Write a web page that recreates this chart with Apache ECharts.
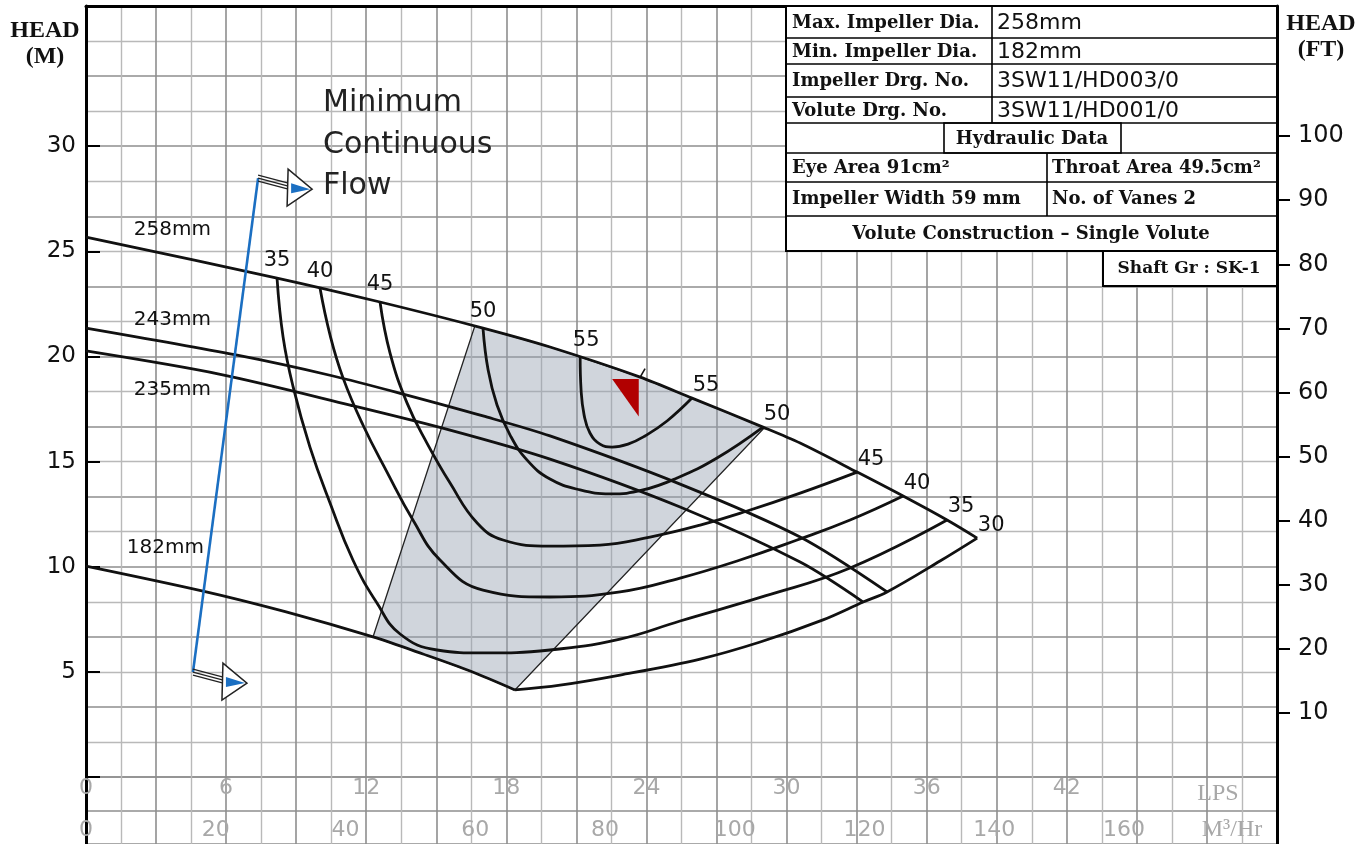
<!DOCTYPE html>
<html>
<head>
<meta charset="utf-8">
<title>Pump curve 3SW11</title>
<script src="https://cdn.jsdelivr.net/npm/echarts@6/dist/echarts.min.js"></script>
<style>
  html, body { margin: 0; padding: 0; background: #fff; }
  #main { width: 1363px; height: 844px; }
</style>
</head>
<body>
<div id="main"></div>
<script>
// flow in LPS, head in metres
var dia258 = [[0,25.68],[8.18,23.73],[12.59,22.59],[17.0,21.35],[19.87,20.45],[23.73,19.02],[25.95,18.02],[28.99,16.64],[30.58,15.88],[33.02,14.5],[34.99,13.36],[36.87,12.22],[38.16,11.36]];
var dia243 = [[0,21.35],[6.42,20.07],[10.58,19.07],[13.58,18.21],[17.0,17.17],[19.87,16.22],[25.44,13.93],[30.58,11.41],[34.3,8.8]];
var dia235 = [[0,20.26],[5.7,19.16],[11.31,17.69],[15.59,16.5],[19.87,15.12],[25.44,12.84],[30.58,10.22],[33.28,8.32]];
var dia182 = [[0,10.03],[5.01,8.84],[8.57,7.85],[12.29,6.66],[14.43,5.85],[16.45,5.04],[18.37,4.14]];

// efficiency lines (%)
var eff55 = [[21.16,19.97],[21.2,18.4],[21.33,17.21],[21.58,16.36],[22.01,15.83],[22.53,15.69],[23.21,15.83],[23.94,16.22],[24.88,16.93],[25.95,18.02]];
var eff50 = [[17.0,21.35],[17.22,19.35],[17.6,17.69],[18.16,16.26],[18.89,15.07],[19.87,14.17],[21.16,13.65],[22.44,13.46],[23.85,13.65],[25.31,14.22],[27.02,15.17],[28.99,16.64]];
var eff45 = [[12.59,22.59],[13.02,20.16],[13.75,17.78],[14.6,15.88],[15.59,13.98],[16.75,12.08],[17.86,11.27],[19.87,10.98],[22.01,11.03],[24.15,11.41],[26.3,11.98],[28.31,12.65],[30.58,13.5],[33.02,14.5]];
var eff40 = [[10.02,23.25],[10.45,21.02],[11.01,18.97],[11.86,16.74],[12.89,14.5],[14.0,12.22],[15.16,10.32],[17.0,8.89],[19.87,8.56],[22.87,8.8],[25.44,9.46],[28.01,10.32],[30.45,11.27],[32.72,12.22],[34.99,13.36]];
var eff35 = [[8.18,23.73],[8.44,20.92],[8.87,18.55],[9.59,15.69],[10.45,13.03],[11.43,10.32],[12.46,8.27],[13.45,6.8],[15.03,6.04],[17.0,5.9],[19.87,6.04],[22.87,6.56],[25.44,7.42],[29.08,8.61],[32.72,9.94],[36.87,12.22]];
var eff30 = [[18.37,4.14],[20.3,4.37],[22.87,4.85],[26.3,5.61],[28.87,6.42],[31.56,7.47],[33.28,8.32],[34.3,8.8],[36.57,10.27],[38.16,11.36]];

// shaded operating zone: flows where its edges meet 182 / 258 curves
var zoneFlow = [12.29, 16.65, 29.05, 18.37];
// duty point marker and minimum continuous flow line
var dutyMark = [[22.53,18.93],[23.67,18.93],[23.67,17.15]];
var dutyTick = [[23.73,19.02],[23.94,19.42]];
var mcfLine = [[7.37,28.48],[4.58,4.99]];

// tick labels
var headMLabels = [5,10,15,20,25,30];
var headMTicks = [0,5,10,15,20,25,30];
var headFtLabels = [10,20,30,40,50,60,70,80,90,100];
var lpsLabels = [0,6,12,18,24,30,36,42];
var m3hLabels = [0,20,40,60,80,100,120,140,160];

var FT = 3.28084, M3H = 3.6;
var X_MAX = 51, Y_MAX = 110 / 3;

var myChart = echarts.init(document.getElementById('main'));

function interp(curve, x) {
  for (var i = 1; i < curve.length; i++) {
    var a = curve[i - 1], b = curve[i];
    if ((x - a[0]) * (x - b[0]) <= 0) {
      return a[1] + (x - a[0]) / (b[0] - a[0]) * (b[1] - a[1]);
    }
  }
  return curve[curve.length - 1][1];
}

// build the zone polygon from the two boundary curves
var zone = [[zoneFlow[0], interp(dia182, zoneFlow[0])], [zoneFlow[1], interp(dia258, zoneFlow[1])]];
dia258.forEach(function (p) { if (p[0] > zoneFlow[1] && p[0] < zoneFlow[2]) zone.push(p); });
zone.push([zoneFlow[2], interp(dia258, zoneFlow[2])]);
zone.push([zoneFlow[3], interp(dia182, zoneFlow[3])]);
dia182.slice().reverse().forEach(function (p) { if (p[0] < zoneFlow[3] && p[0] > zoneFlow[0]) zone.push(p); });

var sansFont = "'DejaVu Sans', sans-serif";
var serifFont = "'DejaVu Serif', serif";

function curve(data, smooth) {
  return {
    type: 'line', xAxisIndex: 0, yAxisIndex: 0, data: data, smooth: smooth,
    symbol: 'none', silent: true, z: 4,
    lineStyle: { color: '#111', width: 2.8 }
  };
}

function polygon(pts, style, z) {
  return {
    type: 'custom', xAxisIndex: 0, yAxisIndex: 0, silent: true, z: z,
    data: [pts[0]],
    renderItem: function (params, api) {
      return { type: 'polygon', shape: { points: pts.map(function (p) { return api.coord(p); }) }, style: style };
    }
  };
}

// curve labels: efficiency at both ends, diameters on the left
var effCurves = [['55', eff55], ['50', eff50], ['45', eff45], ['40', eff40], ['35', eff35], ['30', eff30]];
var labelItems = [];
effCurves.forEach(function (c) {
  var first = c[1][0], last = c[1][c[1].length - 1];
  if (c[0] !== '30') labelItems.push({ text: c[0], at: first, dx: c[0] === '55' ? 6 : 0, dy: -17 });
  labelItems.push({ text: c[0], at: last, dx: 14, dy: -13 });
});
[['258mm', dia258, 3.7, -26], ['243mm', dia243, 3.7, -24], ['235mm', dia235, 3.7, 24], ['182mm', dia182, 3.4, -35]].forEach(function (d) {
  labelItems.push({ text: d[0], at: [d[2], interp(d[1], d[2])], dx: 0, dy: d[3], small: true });
});

// arrow head drawn at each end of the minimum flow line
function arrow(p) {
  var x = p[0], y = p[1];
  return {
    type: 'group',
    children: [
      { type: 'polyline', shape: { points: [[x, y - 3], [x + 34, y + 6]] }, style: { stroke: '#222', lineWidth: 1.3 } },
      { type: 'polyline', shape: { points: [[x, y], [x + 34, y + 9]] }, style: { stroke: '#222', lineWidth: 1.3 } },
      { type: 'polyline', shape: { points: [[x, y + 3], [x + 34, y + 12]] }, style: { stroke: '#222', lineWidth: 1.3 } },
      { type: 'polygon', shape: { points: [[x + 30, y - 9], [x + 54, y + 11], [x + 29, y + 28]] }, style: { fill: '#fff', stroke: '#222', lineWidth: 1.5 } },
      { type: 'polygon', shape: { points: [[x + 33, y + 5], [x + 52, y + 11], [x + 33, y + 15]] }, style: { fill: '#1b6fc2' } }
    ]
  };
}

var series = [
  polygon(zone, { fill: 'rgba(150,162,178,0.45)', stroke: '#222', lineWidth: 1.3 }, 2),
  curve(dia258, 0.3), curve(dia243, 0.3), curve(dia235, 0.3), curve(dia182, 0.3),
  curve(eff55, 0.45), curve(eff50, 0.45), curve(eff45, 0.45), curve(eff40, 0.45), curve(eff35, 0.45), curve(eff30, 0.35),
  polygon(dutyMark, { fill: '#b10000' }, 6),
  {
    type: 'line', xAxisIndex: 0, yAxisIndex: 0, data: dutyTick, symbol: 'none', silent: true, z: 6,
    lineStyle: { color: '#111', width: 1.6 }
  },
  {
    type: 'line', xAxisIndex: 0, yAxisIndex: 0, data: mcfLine, symbol: 'none', silent: true, z: 7,
    lineStyle: { color: '#1b6fc2', width: 2.6 }
  },
  {
    type: 'custom', xAxisIndex: 0, yAxisIndex: 0, silent: true, z: 8, data: mcfLine,
    renderItem: function (params, api) {
      return arrow(api.coord([api.value(0), api.value(1)]));
    }
  },
  {
    type: 'custom', xAxisIndex: 0, yAxisIndex: 0, silent: true, z: 9,
    data: labelItems.map(function (l) { return l.at; }),
    renderItem: function (params, api) {
      var l = labelItems[params.dataIndex];
      var p = api.coord(l.at);
      return {
        type: 'text', x: p[0] + l.dx, y: p[1] + l.dy,
        style: {
          text: l.text, fill: '#111', font: (l.small ? '20px ' : '21px ') + sansFont,
          align: 'center', verticalAlign: 'middle', textAlign: 'center', textVerticalAlign: 'middle'
        }
      };
    }
  }
];

function majorLine() { return { show: true, lineStyle: { color: '#8e8e8e', width: 1.6 } }; }
function minorLine() { return { show: true, lineStyle: { color: '#b9b9b9', width: 1.4 } }; }
function frame() { return { show: true, onZero: false, lineStyle: { color: '#000', width: 3 } }; }
function off() { return { show: false }; }
function noLine() { return { show: false, onZero: false }; }

// table in the top right corner
var tx0 = 786, tx1 = 1277, rowY = [6, 38, 64, 97, 123, 153, 182, 216, 251];
var tableLabels = ['Max. Impeller Dia.', 'Min. Impeller Dia.', 'Impeller Drg. No.', 'Volute Drg. No.'];
var tableValues = ['258mm', '182mm', '3SW11/HD003/0', '3SW11/HD001/0'];

function gText(text, x, y, font, align, fill) {
  return {
    type: 'text', z: 60, x: x, y: y,
    style: { text: text, font: font, fill: fill || '#111', align: align || 'left', textAlign: align || 'left', verticalAlign: 'middle', textVerticalAlign: 'middle' }
  };
}
function gLine(x1, y1, x2, y2, w) {
  return { type: 'line', z: 59, shape: { x1: x1, y1: y1, x2: x2, y2: y2 }, style: { stroke: '#000', lineWidth: w || 1.6 } };
}

var tblFont = 'bold 18px ' + serifFont;
var graphics = [
  { type: 'rect', z: 58, shape: { x: tx0, y: rowY[0], width: tx1 - tx0, height: rowY[8] - rowY[0] }, style: { fill: '#fff', stroke: '#000', lineWidth: 2 } },
  { type: 'rect', z: 58, shape: { x: 1103, y: rowY[8], width: tx1 - 1103, height: 35 }, style: { fill: '#fff', stroke: '#000', lineWidth: 2 } },
  { type: 'rect', z: 59, shape: { x: 944, y: rowY[4], width: 177, height: rowY[5] - rowY[4] }, style: { fill: 'none', stroke: '#000', lineWidth: 1.6 } },
  gLine(992, rowY[0], 992, rowY[4]),
  gLine(1047, rowY[5], 1047, rowY[7])
];
for (var r = 1; r < 8; r++) graphics.push(gLine(tx0, rowY[r], tx1, rowY[r]));
tableLabels.forEach(function (t, i) {
  var yc = (rowY[i] + rowY[i + 1]) / 2;
  graphics.push(gText(t, 792, yc + 1, tblFont));
  graphics.push(gText(tableValues[i], 997, yc + 1, '22px ' + sansFont));
});
graphics.push(
  gText('Hydraulic Data', 1032, 139, tblFont, 'center'),
  gText('Eye Area 91cm²', 792, 168, tblFont),
  gText('Throat Area 49.5cm²', 1052, 168, tblFont),
  gText('Impeller Width 59 mm', 792, 199, tblFont),
  gText('No. of Vanes 2', 1052, 199, tblFont),
  gText('Volute Construction – Single Volute', 1031, 234, tblFont, 'center'),
  gText('Shaft Gr : SK-1', 1189, 269, 'bold 17px ' + serifFont, 'center'),
  gText('HEAD', 45, 31, "bold 24px 'Liberation Serif', serif", 'center'),
  gText('(M)', 45, 57, "bold 24px 'Liberation Serif', serif", 'center'),
  gText('HEAD', 1321, 24, "bold 24px 'Liberation Serif', serif", 'center'),
  gText('(FT)', 1321, 50, "bold 24px 'Liberation Serif', serif", 'center'),
  gText('Minimum', 323, 103, '30px ' + sansFont, 'left', '#222'),
  gText('Continuous', 323, 145, '30px ' + sansFont, 'left', '#222'),
  gText('Flow', 323, 186, '30px ' + sansFont, 'left', '#222'),
  gText('LPS', 1218, 794, "24px 'Liberation Serif', serif", 'center', '#a8a8a8'),
  gText('M³/Hr', 1232, 830, "24px 'Liberation Serif', serif", 'center', '#a8a8a8')
);

option = {
  animation: false,
  backgroundColor: '#fff',
  grid: [
    { left: 86, top: 6, width: 1191, height: 771 },
    { left: 86, top: 777, width: 1191, height: 70 }
  ],
  xAxis: [
    { type: 'value', gridIndex: 0, position: 'bottom', min: 0, max: X_MAX, interval: 3,
      axisLine: noLine(), axisTick: off(), axisLabel: off(),
      splitLine: majorLine(), minorTick: { show: false, splitNumber: 2 }, minorSplitLine: minorLine() },
    { type: 'value', gridIndex: 0, position: 'top', min: 0, max: X_MAX,
      axisLine: frame(), axisTick: off(), axisLabel: off(), splitLine: off() },
    { type: 'value', gridIndex: 1, position: 'top', min: 0, max: X_MAX, interval: 3,
      axisLine: noLine(), axisTick: off(),
      axisLabel: { inside: true, margin: 0, showMinLabel: true, color: '#a8a8a8', fontSize: 22, fontFamily: sansFont,
        formatter: function (v) { return lpsLabels.indexOf(v) >= 0 ? String(v) : ''; } },
      splitLine: majorLine(), minorTick: { show: false, splitNumber: 2 }, minorSplitLine: minorLine() },
    { type: 'value', gridIndex: 1, position: 'bottom', min: 0, max: X_MAX * M3H, interval: 20,
      axisLine: noLine(), axisTick: off(), splitLine: off(),
      axisLabel: { inside: true, margin: 3, showMinLabel: true, color: '#a8a8a8', fontSize: 22, fontFamily: sansFont,
        formatter: function (v) { return m3hLabels.indexOf(v) >= 0 ? String(v) : ''; } } }
  ],
  yAxis: [
    { type: 'value', gridIndex: 0, position: 'left', min: 0, max: Y_MAX, interval: 10 / 3,
      axisLine: noLine(), axisTick: off(), axisLabel: off(),
      splitLine: majorLine(), minorTick: { show: false, splitNumber: 2 }, minorSplitLine: minorLine() },
    { type: 'value', gridIndex: 0, position: 'left', min: 0, max: Y_MAX, interval: 5,
      axisLine: frame(), splitLine: off(),
      axisTick: { inside: true, length: 14, lineStyle: { color: '#000', width: 2 }, customValues: headMTicks },
      axisLabel: { margin: 10, color: '#111', fontSize: 23, fontFamily: sansFont, customValues: headMLabels,
        formatter: function (v) { return headMLabels.indexOf(v) >= 0 ? String(v) : ''; } } },
    { type: 'value', gridIndex: 0, position: 'right', min: 0, max: Y_MAX * FT, interval: 10,
      axisLine: frame(), splitLine: off(),
      axisTick: { inside: false, length: 13, lineStyle: { color: '#000', width: 2 }, customValues: headFtLabels },
      axisLabel: { margin: 21, color: '#111', fontSize: 24, fontFamily: sansFont, customValues: headFtLabels,
        formatter: function (v) { return headFtLabels.indexOf(v) >= 0 ? String(v) : ''; } } },
    { type: 'value', gridIndex: 1, position: 'left', min: 0, max: 2, interval: 1,
      axisLine: frame(), axisTick: off(), axisLabel: off(), splitLine: majorLine() },
    { type: 'value', gridIndex: 1, position: 'right', min: 0, max: 2, interval: 1,
      axisLine: frame(), axisTick: off(), axisLabel: off(), splitLine: off() }
  ],
  graphic: graphics,
  series: series
};

myChart.setOption(option);
</script>
</body>
</html>
